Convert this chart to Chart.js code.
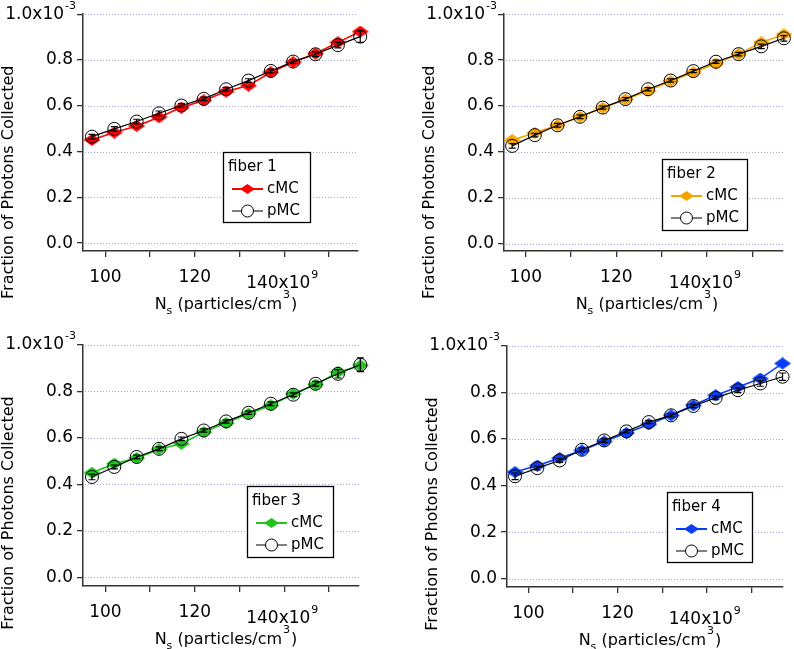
<!DOCTYPE html>
<html><head><meta charset="utf-8">
<script src="https://cdn.jsdelivr.net/npm/chart.js@4.4.0/dist/chart.umd.min.js"></script>
<style>
html,body{margin:0;padding:0;background:#fff;width:794px;height:649px;overflow:hidden}
.p{position:absolute}
</style></head><body>
<div class="p" style="left:0;top:0;width:400px;height:320px"><canvas id="c1"></canvas></div>
<div class="p" style="left:400px;top:0;width:394px;height:320px"><canvas id="c2"></canvas></div>
<div class="p" style="left:0;top:320px;width:400px;height:329px"><canvas id="c3"></canvas></div>
<div class="p" style="left:400px;top:320px;width:394px;height:329px"><canvas id="c4"></canvas></div>
<script>
// Particle concentration N_s (x10^9 particles/cm^3)
const concentration = [97, 102, 107, 112, 117, 122, 127, 132, 137, 142, 147, 152, 157];
// Fraction of photons collected (x10^-3)
const fiber1_cMC = [0.451,0.483,0.512,0.550,0.592,0.623,0.662,0.688,0.746,0.790,0.828,0.877,0.924];
const fiber1_pMC = [0.465,0.499,0.531,0.567,0.601,0.630,0.672,0.710,0.752,0.793,0.825,0.865,0.902];
const fiber1_pMC_err = [0.010,0.010,0.010,0.010,0.008,0.008,0.008,0.008,0.008,0.008,0.010,0.012,0.025];
const fiber2_cMC = [0.451,0.483,0.516,0.553,0.592,0.628,0.666,0.708,0.746,0.785,0.826,0.877,0.912];
const fiber2_pMC = [0.426,0.473,0.516,0.553,0.593,0.630,0.673,0.711,0.752,0.793,0.826,0.860,0.895];
const fiber2_pMC_err = [0.010,0.008,0.008,0.008,0.007,0.007,0.007,0.007,0.007,0.007,0.008,0.010,0.012];
const fiber3_cMC = [0.450,0.489,0.513,0.551,0.575,0.625,0.664,0.704,0.740,0.790,0.829,0.883,0.912];
const fiber3_pMC = [0.432,0.475,0.518,0.553,0.596,0.632,0.671,0.708,0.747,0.786,0.833,0.876,0.915];
const fiber3_pMC_err = [0.012,0.008,0.008,0.008,0.008,0.007,0.007,0.007,0.008,0.008,0.010,0.018,0.030];
const fiber4_cMC = [0.458,0.486,0.518,0.551,0.590,0.626,0.663,0.702,0.745,0.788,0.824,0.860,0.925];
const fiber4_pMC = [0.440,0.475,0.508,0.554,0.594,0.633,0.673,0.702,0.742,0.777,0.810,0.839,0.868];
const fiber4_pMC_err = [0.014,0.008,0.008,0.008,0.008,0.007,0.007,0.007,0.007,0.008,0.010,0.012,0.016];

const fiberNames = ['fiber 1','fiber 2','fiber 3','fiber 4'];
const seriesNames = ['cMC','pMC'];
const yTickValues = [0, 0.2, 0.4, 0.6, 0.8, 1.0];
const xTickValues = [100, 110, 120, 130, 140, 150];
const xLabeledTicks = [100, 120];
const yTopLabel = ['1.0x10', '-3'];
const xExpLabel = ['140x10', '9'];
const xTitleParts = ['N', 's', ' (particles/cm', '3', ')'];
const yTitle = 'Fraction of Photons Collected';

const FONT = "'DejaVu Sans', sans-serif";
Chart.defaults.font.family = FONT;
Chart.defaults.animation = false;

function diamondImage(w, h, color) {
  const c = document.createElement('canvas');
  c.width = w; c.height = h;
  const g = c.getContext('2d');
  g.fillStyle = color;
  g.beginPath();
  g.moveTo(w/2, 0); g.lineTo(w, h/2); g.lineTo(w/2, h); g.lineTo(0, h/2); g.closePath();
  g.fill();
  return c;
}

function drawSup(ctx, parts, x, y, size, align) {
  ctx.font = size + 'px ' + FONT;
  const bw = ctx.measureText(parts[0]).width;
  ctx.font = Math.round(size*0.65) + 'px ' + FONT;
  const sw = ctx.measureText(parts[1]).width;
  let x0 = x;
  if (align === 'center') x0 = x - (bw + sw + 1)/2;
  else if (align === 'right') x0 = x - (bw + sw + 1);
  ctx.textAlign = 'left';
  ctx.textBaseline = 'middle';
  ctx.font = size + 'px ' + FONT;
  ctx.fillText(parts[0], x0, y);
  ctx.font = Math.round(size*0.65) + 'px ' + FONT;
  ctx.fillText(parts[1], x0 + bw + 1, y - size*0.5);
}

const annot = {
  id: 'annot',
  beforeDatasetsDraw(chart, args, o) {
    const ctx = chart.ctx, a = chart.chartArea, ys = chart.scales.y;
    ctx.save();
    ctx.strokeStyle = '#a9a9e6';
    ctx.lineWidth = 1;
    ctx.setLineDash([1, 2]);
    yTickValues.forEach(v => {
      const py = Math.round(ys.getPixelForValue(v)) + 0.5;
      ctx.beginPath(); ctx.moveTo(a.left + 2, py); ctx.lineTo(a.right, py); ctx.stroke();
    });
    ctx.restore();
  },
  afterDatasetsDraw(chart, args, o) {
    const ctx = chart.ctx, ys = chart.scales.y;
    const meta = chart.getDatasetMeta(1);
    const vals = chart.data.datasets[1].data;
    ctx.save();
    ctx.strokeStyle = '#000';
    ctx.lineWidth = 1.2;
    meta.data.forEach((el, i) => {
      const v = vals[i].y, e = o.err[i];
      const y1 = ys.getPixelForValue(v + e), y2 = ys.getPixelForValue(v - e);
      ctx.beginPath();
      ctx.moveTo(el.x, y1); ctx.lineTo(el.x, y2);
      ctx.moveTo(el.x - 3.5, y1); ctx.lineTo(el.x + 3.5, y1);
      ctx.moveTo(el.x - 3.5, y2); ctx.lineTo(el.x + 3.5, y2);
      ctx.stroke();
    });
    ctx.restore();
  },
  afterDraw(chart, args, o) {
    const ctx = chart.ctx, a = chart.chartArea, xs = chart.scales.x, ys = chart.scales.y;
    ctx.save();
    ctx.fillStyle = '#000';
    drawSup(ctx, yTopLabel, a.left - 7, ys.getPixelForValue(1.0), 17, 'right');
    drawSup(ctx, xExpLabel, xs.getPixelForValue(140) - 2, a.bottom + 33, 17, 'center');
    // y title
    ctx.save();
    ctx.translate(a.left - 74, a.top + 168);
    ctx.rotate(-Math.PI/2);
    ctx.font = '16px ' + FONT;
    ctx.textAlign = 'center'; ctx.textBaseline = 'middle';
    ctx.fillText(yTitle, 0, 0);
    ctx.restore();
    // x title with sub/superscript
    const big = '16px ' + FONT, small = '11px ' + FONT;
    const p = xTitleParts;
    ctx.font = big; const w0 = ctx.measureText(p[0]).width, w2 = ctx.measureText(p[2]).width, w4 = ctx.measureText(p[4]).width;
    ctx.font = small; const w1 = ctx.measureText(p[1]).width, w3 = ctx.measureText(p[3]).width;
    const total = w0 + w1 + w2 + w3 + w4 + 2;
    let tx = a.left + 143 - total/2;
    const ty = a.bottom + 54;
    ctx.textAlign = 'left'; ctx.textBaseline = 'middle';
    ctx.font = big; ctx.fillText(p[0], tx, ty); tx += w0;
    ctx.font = small; ctx.fillText(p[1], tx, ty + 6); tx += w1;
    ctx.font = big; ctx.fillText(p[2], tx, ty); tx += w2 + 1;
    ctx.font = small; ctx.fillText(p[3], tx, ty - 10); tx += w3 + 1;
    ctx.font = big; ctx.fillText(p[4], tx, ty);
    // legend
    const L = o.legend;
    ctx.fillStyle = '#fff';
    ctx.fillRect(L.x, L.y, L.w, L.h);
    ctx.strokeStyle = '#000'; ctx.lineWidth = 1.3;
    ctx.strokeRect(L.x + 0.5, L.y + 0.5, L.w, L.h);
    ctx.fillStyle = '#000';
    ctx.font = '15px ' + FONT;
    ctx.textAlign = 'left'; ctx.textBaseline = 'middle';
    ctx.fillText(o.title, L.x + 5, L.y + 15);
    const rows = [L.y + 37, L.y + 59];
    ctx.strokeStyle = o.color; ctx.lineWidth = 2;
    ctx.beginPath(); ctx.moveTo(L.x + 9, rows[0]); ctx.lineTo(L.x + 40, rows[0]); ctx.stroke();
    ctx.drawImage(o.legendDiamond, L.x + 24.5 - 7.5, rows[0] - 5);
    ctx.fillStyle = '#000';
    ctx.fillText(seriesNames[0], L.x + 44, rows[0]);
    ctx.strokeStyle = '#000'; ctx.lineWidth = 1;
    ctx.beginPath(); ctx.moveTo(L.x + 9, rows[1]); ctx.lineTo(L.x + 18, rows[1]);
    ctx.moveTo(L.x + 31, rows[1]); ctx.lineTo(L.x + 40, rows[1]); ctx.stroke();
    ctx.beginPath(); ctx.arc(L.x + 24.5, rows[1], 6, 0, Math.PI*2);
    ctx.fillStyle = '#fff'; ctx.fill(); ctx.stroke();
    ctx.fillStyle = '#000';
    ctx.fillText(seriesNames[1], L.x + 44, rows[1]);
    ctx.restore();
  }
};

function makePanel(id, W, H, area, xmin, xmax, ymin, cVals, pVals, pErr, color, fiber, legend) {
  const pts = arr => concentration.map((x, i) => ({x: x, y: arr[i]}));
  new Chart(document.getElementById(id), {
    type: 'line',
    data: {
      datasets: [
        { label: seriesNames[0], data: pts(cVals), borderColor: color, backgroundColor: color,
          borderWidth: 1.6, pointStyle: diamondImage(17, 12, color), pointRadius: 8, clip: false, order: 1 },
        { label: seriesNames[1], data: pts(pVals), borderColor: '#000', backgroundColor: 'rgba(0,0,0,0)',
          borderWidth: 1.2, pointStyle: 'circle', pointRadius: 6.5, pointBorderWidth: 1,
          pointBorderColor: '#000', pointBackgroundColor: 'rgba(0,0,0,0)', clip: false, order: 0 }
      ]
    },
    options: {
      responsive: true, maintainAspectRatio: false, animation: false,
      layout: { padding: { left: 0, top: area.t, right: W - area.r, bottom: 0 } },
      plugins: {
        legend: { display: false }, tooltip: { enabled: false },
        annot: { err: pErr, color: color, title: fiber, legend: legend, legendDiamond: diamondImage(15, 10, color) }
      },
      scales: {
        x: {
          type: 'linear', min: xmin, max: xmax,
          border: { color: '#333', width: 1.5 },
          grid: { drawOnChartArea: false, drawTicks: true, tickLength: 6, color: '#333', lineWidth: 1.3 },
          ticks: { autoSkip: false, maxRotation: 0, padding: 10, color: '#000', font: { size: 17 },
            callback: v => xLabeledTicks.includes(v) ? String(v) : '' },
          afterBuildTicks: s => { s.ticks = xTickValues.map(v => ({ value: v })); },
          afterFit: s => { s.height = H - area.b; }
        },
        y: {
          type: 'linear', min: ymin, max: 1.0,
          border: { color: '#333', width: 1.5 },
          grid: { drawOnChartArea: false, drawTicks: true, tickLength: 6, color: '#333', lineWidth: 1.3 },
          ticks: { autoSkip: false, padding: 4, color: '#000', font: { size: 17 },
            callback: v => v >= 0.99 ? '' : v.toFixed(1) },
          afterBuildTicks: s => { s.ticks = yTickValues.map(v => ({ value: v })); },
          afterFit: s => { s.width = area.l; }
        }
      }
    },
    plugins: [annot]
  });
}

makePanel('c1', 400, 320, {l:83, t:12, r:358, b:251}, 95.0, 156.5, -0.0346,
  fiber1_cMC, fiber1_pMC, fiber1_pMC_err, '#ff0000', fiberNames[0], {x:223, y:152, w:87, h:70});
makePanel('c2', 394, 320, {l:104, t:12, r:383, b:251}, 95.2, 156.8, -0.032,
  fiber2_cMC, fiber2_pMC, fiber2_pMC_err, '#f7a400', fiberNames[1], {x:262, y:159, w:85, h:71});
makePanel('c3', 400, 329, {l:83, t:25, r:359, b:266}, 95.0, 156.7, -0.0375,
  fiber3_cMC, fiber3_pMC, fiber3_pMC_err, '#1fc41f', fiberNames[2], {x:247, y:166, w:86, h:71});
makePanel('c4', 394, 329, {l:107, t:26, r:383, b:267}, 95.2, 157.1, -0.036,
  fiber4_cMC, fiber4_pMC, fiber4_pMC_err, '#0a3ef5', fiberNames[3], {x:267, y:172, w:85, h:70});
</script>
</body></html>
